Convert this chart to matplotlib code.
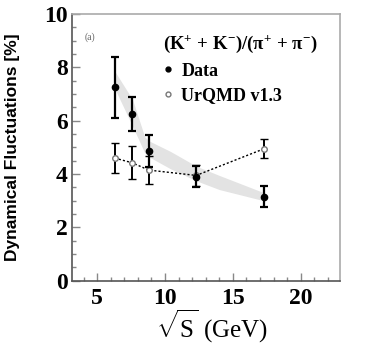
import matplotlib
matplotlib.use("Agg")
import matplotlib.pyplot as plt
from matplotlib.lines import Line2D
from matplotlib.ticker import MultipleLocator

# collision energies (GeV)
energy = [6.3, 7.6, 8.8, 12.3, 17.3]

# measured dynamical fluctuations [%]
data_y = [7.25, 6.25, 4.85, 3.9, 3.15]
data_err = [1.15, 0.65, 0.6, 0.4, 0.4]

# UrQMD v1.3 prediction
urqmd_y = [4.6, 4.42, 4.15, 3.95, 4.95]
urqmd_err = [0.55, 0.62, 0.52, 0.4, 0.35]

# systematic band
band_x = [6.3, 7.6, 8.5, 8.8, 10.4, 12.3, 14.0, 17.3]
band_hi = [7.85, 6.8, 5.4, 5.25, 4.85, 4.3, 3.95, 3.3]
band_lo = [7.2, 5.8, 4.8, 4.65, 4.2, 3.75, 3.42, 3.0]

plt.rcParams["mathtext.fontset"] = "custom"
plt.rcParams["mathtext.rm"] = "Liberation Serif"
plt.rcParams["mathtext.bf"] = "Liberation Serif:bold"
plt.rcParams["mathtext.it"] = "Liberation Serif:italic"

fig = plt.figure(figsize=(3.68, 3.51), dpi=100)
ax = fig.add_axes([0.196, 0.2, 0.728, 0.76])

ax.fill_between(band_x, band_lo, band_hi, color="#e3e3e3", lw=0, zorder=1)

ax.errorbar(energy, urqmd_y, yerr=urqmd_err, fmt="o", ms=4, mfc="white",
            mec="#777777", mew=1.0, ecolor="black", elinewidth=1.4,
            capsize=3, capthick=1.4, zorder=3)
ax.plot(energy, urqmd_y, ls=(0, (1.5, 1.5)), color="black", lw=1.0, zorder=2)
ax.errorbar(energy, data_y, yerr=data_err, fmt="o", ms=4.5, color="black",
            elinewidth=1.6, capsize=3, capthick=1.6, zorder=4)

ax.set_xlim(3.15, 22.9)
ax.set_ylim(0, 10)
ax.xaxis.set_major_locator(MultipleLocator(5))
ax.xaxis.set_minor_locator(MultipleLocator(1))
ax.yaxis.set_major_locator(MultipleLocator(2))
ax.yaxis.set_minor_locator(MultipleLocator(0.5))
ax.tick_params(which="both", direction="in", color="#888888", width=1.0)
ax.tick_params(which="major", length=6)
ax.tick_params(which="minor", length=3)
ax.tick_params(axis="y", pad=3)
ax.tick_params(axis="x", pad=5)
ax.tick_params(axis="both", labelsize=17)
for lab in ax.get_xticklabels() + ax.get_yticklabels():
    lab.set_fontfamily("Liberation Serif")
    lab.set_fontweight("bold")

for side in ["left", "bottom"]:
    ax.spines[side].set_color("#555555")
    ax.spines[side].set_linewidth(1.2)
for side in ["top", "right"]:
    ax.spines[side].set_color("#aaaaaa")
    ax.spines[side].set_linewidth(1.2)

ax.set_ylabel("Dynamical Fluctuations [%]", fontsize=12.5, fontweight="bold",
              family="Liberation Sans")
ax.yaxis.set_label_coords(-0.195, 0.5)
ax.set_xlabel(r"$\sqrt{\mathrm{S}}$ (GeV)", fontsize=18, family="Liberation Serif")
ax.xaxis.set_label_coords(0.52, -0.1)

ax.text(0.045, 0.905, "(a)", transform=ax.transAxes, fontsize=7,
        color="#666666", family="Liberation Serif")

handles = [
    Line2D([], [], ls="none", marker="o", ms=3.5, color="black"),
    Line2D([], [], ls="none", marker="o", ms=3.5, mfc="white", mec="#777777"),
]
leg = ax.legend(handles, ["Data", "UrQMD v1.3"], loc="upper left",
                bbox_to_anchor=(0.28, 0.985), frameon=False,
                title=r"$\mathbf{(K^{+}\,+\,K^{-})/(\pi^{+}\,+\,\pi^{-})}$",
                prop={"family": "Liberation Serif", "weight": "bold", "size": 13},
                handlelength=0.5, handletextpad=0.5, labelspacing=0.4)
leg.get_title().set_fontsize(13.5)
leg._legend_box.align = "left"

fig.savefig("out.png", dpi=100)
